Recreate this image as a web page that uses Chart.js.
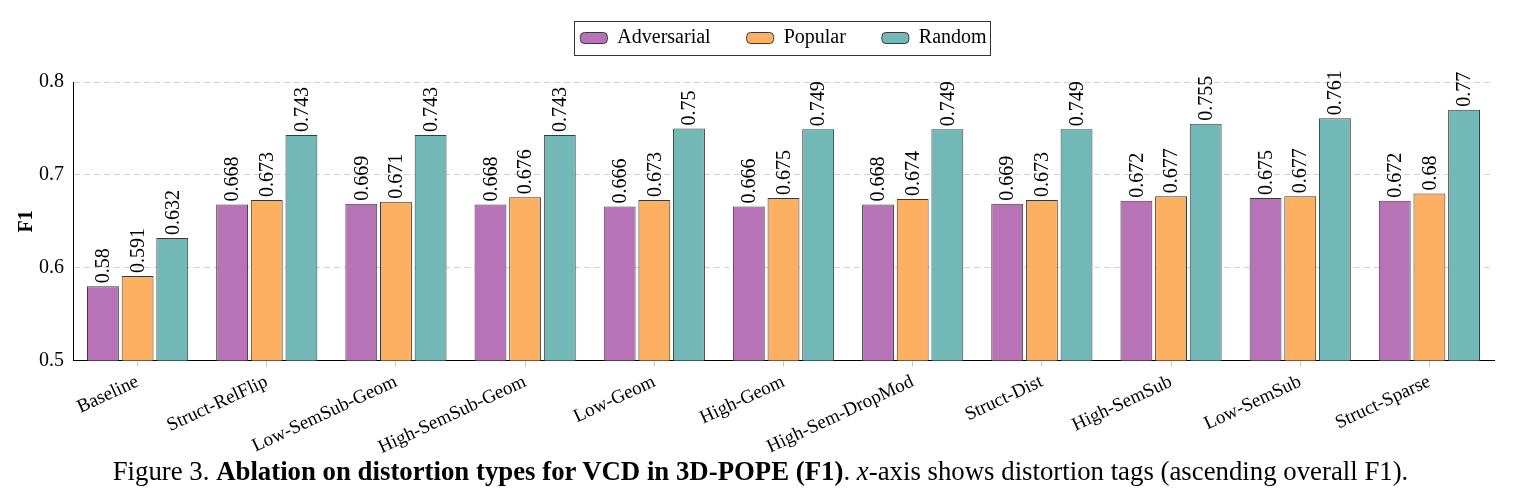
<!DOCTYPE html>
<html>
<head>
<meta charset="utf-8">
<script src="https://cdn.jsdelivr.net/npm/chart.js@4.4.1/dist/chart.umd.min.js"></script>
<style>
  html, body { margin: 0; padding: 0; background: #fff; }
  #wrap { position: relative; width: 1521px; height: 501px; }
  #chart { position: absolute; left: 0; top: 0; }
  #caption {
    position: absolute; left: 0; top: 456px; width: 1521px;
    text-align: center; font-family: "Liberation Serif", serif; font-size: 26.8px; line-height: 30px; color: #000;
  }
</style>
</head>
<body>
<div id="wrap">
  <canvas id="chart" width="1521" height="463"></canvas>
  <div id="caption">Figure 3. <b>Ablation on distortion types for VCD in 3D-POPE (F1)</b>. <i>x</i>-axis shows distortion tags (ascending overall F1).</div>
</div>
<script>
const categories = ['Baseline', 'Struct-RelFlip', 'Low-SemSub-Geom', 'High-SemSub-Geom', 'Low-Geom', 'High-Geom',
    'High-Sem-DropMod', 'Struct-Dist', 'High-SemSub', 'Low-SemSub', 'Struct-Sparse'];
const adversarial = [0.58, 0.668, 0.669, 0.668, 0.666, 0.666, 0.668, 0.669, 0.672, 0.675, 0.672];
const popular = [0.591, 0.673, 0.671, 0.676, 0.673, 0.675, 0.674, 0.673, 0.677, 0.677, 0.68];
const random = [0.632, 0.743, 0.743, 0.743, 0.75, 0.749, 0.749, 0.749, 0.755, 0.761, 0.77];
const yTicks = [0.5, 0.6, 0.7, 0.8];

const serif = '"Liberation Serif", "Times New Roman", serif';

// rotated value labels above each bar
const barLabels = {
    id: 'barLabels',
    afterDatasetsDraw(chart) {
        const ctx = chart.ctx;
        ctx.save();
        ctx.font = '20px ' + serif;
        ctx.fillStyle = '#000';
        ctx.textAlign = 'left';
        ctx.textBaseline = 'middle';
        chart.data.datasets.forEach((ds, i) => {
            chart.getDatasetMeta(i).data.forEach((bar, j) => {
                ctx.save();
                ctx.translate(bar.x, bar.y - 3);
                ctx.rotate(-Math.PI / 2);
                ctx.fillText(String(ds.data[j]), 0, 1);
                ctx.restore();
            });
        });
        ctx.restore();
    }
};

// frame around the legend
const legendFrame = {
    id: 'legendFrame',
    afterDraw(chart) {
        const boxes = chart.legend && chart.legend.legendHitBoxes;
        if (!boxes || !boxes.length) return;
        const first = boxes[0], last = boxes[boxes.length - 1];
        const ctx = chart.ctx;
        ctx.save();
        ctx.strokeStyle = '#333';
        ctx.lineWidth = 1;
        ctx.strokeRect(Math.round(first.left - 6) + 0.5, Math.round(first.top - 7) + 0.5,
            Math.round(last.left + last.width - first.left + 10), Math.round(first.height + 14));
        ctx.restore();
    }
};

const barStyle = {
    borderColor: '#3a3a3a',
    borderWidth: 1,
    borderSkipped: false,
    barPercentage: 0.92,
    categoryPercentage: 0.805
};

new Chart(document.getElementById('chart').getContext('2d'), {
    type: 'bar',
    data: {
        labels: categories,
        datasets: [
            { label: 'Adversarial', data: adversarial, backgroundColor: '#b873b7', ...barStyle },
            { label: 'Popular', data: popular, backgroundColor: '#fdb062', ...barStyle },
            { label: 'Random', data: random, backgroundColor: '#71b8b7', ...barStyle }
        ]
    },
    options: {
        responsive: false,
        animation: false,
        layout: { padding: { top: -8, left: 2, right: 27, bottom: 0 } },
        plugins: {
            tooltip: { enabled: false },
            legend: {
                position: 'top',
                fullSize: false,
                labels: {
                    color: '#000',
                    font: { family: serif, size: 20 },
                    boxWidth: 27,
                    boxHeight: 11,
                    padding: 36,
                    useBorderRadius: true,
                    borderRadius: 4
                }
            }
        },
        scales: {
            x: {
                offset: true,
                grid: { display: true, drawOnChartArea: false, offset: false, color: '#c8c8c8', tickLength: 6 },
                border: { display: true, color: '#000', width: 1 },
                ticks: {
                    color: '#000',
                    font: { family: serif, size: 19 },
                    minRotation: 25,
                    maxRotation: 25,
                    padding: 4
                }
            },
            // empty spacer between legend and plot
            gap: {
                type: 'category',
                position: 'top',
                grid: { display: false },
                border: { display: false },
                ticks: { display: false },
                afterFit: (s) => { s.height = 24; }
            },
            y: {
                min: 0.5,
                max: 0.8,
                afterBuildTicks: (axis) => { axis.ticks = yTicks.map(v => ({ value: v })); },
                grid: { color: (c) => c.tick && c.tick.value === 0.5 ? 'rgba(0,0,0,0)' : '#d2d2d2', drawTicks: false },
                border: { display: true, color: '#000', width: 1, dash: [6, 4] },
                ticks: {
                    color: '#000',
                    font: { family: serif, size: 20 },
                    padding: 9,
                    callback: (v) => String(v)
                },
                title: {
                    display: true,
                    text: 'F1',
                    color: '#000',
                    font: { family: serif, size: 20, weight: 'bold' },
                    padding: { top: 13, bottom: -9 }
                }
            }
        }
    },
    plugins: [barLabels, legendFrame]
});
</script>
</body>
</html>
